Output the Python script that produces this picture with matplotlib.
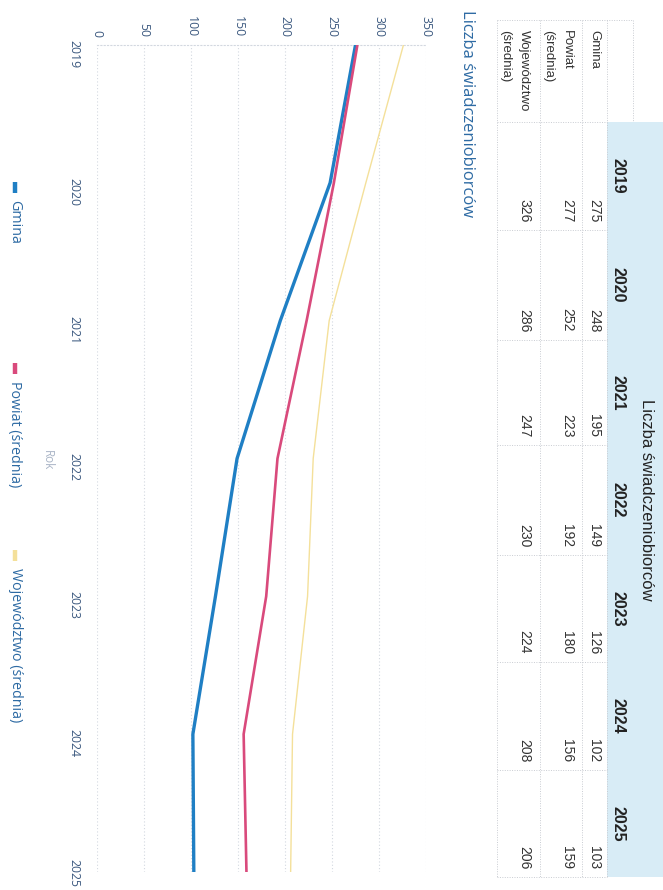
import matplotlib.pyplot as plt
import matplotlib.transforms as mtransforms

# dane
years = [2019, 2020, 2021, 2022, 2023, 2024, 2025]
gmina = [275, 248, 195, 149, 126, 102, 103]
powiat = [277, 252, 223, 192, 180, 156, 159]
wojewodztwo = [326, 286, 247, 230, 224, 208, 206]
row_labels = ["Gmina", "Powiat\n(średnia)", "Województwo\n(średnia)"]
series_names = ["Gmina", "Powiat (średnia)", "Województwo (średnia)"]
title = "Liczba świadczeniobiorców"
value_ticks = [0, 50, 100, 150, 200, 250, 300, 350]

colors = ["#1f7fc4", "#d94a7c", "#f4e09a"]
widths = [2.4, 1.9, 1.0]

W, H = 663, 890
fig = plt.figure(figsize=(W / 100, H / 100), dpi=100)
plt.rcParams['font.family'] = ['Open Sans', 'DejaVu Sans']

# warstwa w pikselach (tabela, legenda, tytuły)
ov = fig.add_axes([0, 0, 1, 1])
ov.set_xlim(0, W)
ov.set_ylim(H, 0)
ov.axis('off')

# --- wykres (obrócony o 90 stopni) ---
x0, x1, y0, y1 = 97, 426, 45, 872
ax = fig.add_axes([x0 / W, 1 - y1 / H, (x1 - x0) / W, (y1 - y0) / H])
ax.patch.set_alpha(0)
for vals, c, lw in zip([gmina, powiat, wojewodztwo], colors, widths):
    ax.plot(vals, years, color=c, lw=lw, solid_capstyle='butt', zorder=3)
ax.set_xlim(0, 350)
ax.set_ylim(2025, 2019)
ax.set_xticks(value_ticks)
ax.set_yticks(years)
ax.xaxis.tick_top()
ax.tick_params(length=0, labelsize=8.8, colors='#3d5a80')
ax.tick_params(axis='x', pad=6)
ax.tick_params(axis='y', pad=12)
for t in ax.get_xticklabels():
    t.set_rotation(-90)
ylabs = ax.get_yticklabels()
for t in ylabs:
    t.set_rotation(-90)
# ostatnia etykieta lekko w górę, żeby nie wychodziła poza obraz
ylabs[-1].set_transform(ylabs[-1].get_transform() +
                        mtransforms.ScaledTranslation(0, 8 / 100, fig.dpi_scale_trans))
ax.grid(axis='x', linestyle=(0, (1, 2)), color='#d3d8e0', lw=0.8)
for s in ['left', 'right', 'bottom']:
    ax.spines[s].set_visible(False)
ax.spines['top'].set_linestyle((0, (1, 2)))
ax.spines['top'].set_color('#d3d8e0')

ov.text(467, 10, title, rotation=-90, rotation_mode='anchor', ha='left', va='center',
        fontsize=12, color='#2d6aa3')
ov.text(47, 460, "Rok", rotation=-90, rotation_mode='anchor', ha='center', va='center',
        fontsize=8.5, color='#a9b4c6')

# legenda
leg_y = [182, 363, 550]
for yy, name, c in zip(leg_y, series_names, colors):
    ov.plot([15, 15], [yy, yy + 11], color=c, lw=3.2, solid_capstyle='butt')
    ov.text(15, yy + 18, name, rotation=-90, rotation_mode='anchor', ha='left', va='center',
            fontsize=10.3, color='#2d6aa3')

# --- tabela ---
col_edges = [20, 122, 230, 340, 445, 555, 662, 770, 877]
row_edges = [497, 540, 582, 607, 633]
ov.add_patch(plt.Rectangle((607, col_edges[1]), W - 607, col_edges[-1] - col_edges[1],
                           color='#d8ecf6', lw=0, zorder=0))
grid_kw = dict(color='#c9ccd2', lw=0.7, linestyle=(0, (1, 1.5)))
for xe in row_edges[:4]:
    ov.plot([xe, xe], [col_edges[0], col_edges[-1]], **grid_kw)
ov.plot([633, 633], [col_edges[0], col_edges[1]], **grid_kw)
for ye in col_edges:
    ov.plot([497, 633 if ye == col_edges[0] else 607], [ye, ye], **grid_kw)

ov.text(646, (col_edges[1] + col_edges[-1]) / 2, title, rotation=-90, rotation_mode='anchor',
        ha='center', va='center', fontsize=12, family='Liberation Sans', color='#222222')
for i, yr in enumerate(years):
    ov.text(618, (col_edges[i + 1] + col_edges[i + 2]) / 2, str(yr), rotation=-90,
            rotation_mode='anchor', ha='center', va='center', fontsize=11.5,
            fontweight='bold', family='Liberation Sans', color='#222222')

row_x = [594, 567, 524]
for xr, lab, vals in zip(row_x, row_labels, [gmina, powiat, wojewodztwo]):
    lines = lab.split("\n")
    for k, ln in enumerate(lines):
        ov.text(xr - k * 19, col_edges[0] + 10, ln, rotation=-90, rotation_mode='anchor',
                ha='left', va='center', fontsize=9.5, family='Liberation Sans', color='#333333')
    for i, v in enumerate(vals):
        ov.text(xr, col_edges[i + 2] - 8, str(v), rotation=-90, rotation_mode='anchor',
                ha='right', va='center', fontsize=10, family='Liberation Sans', color='#333333')

fig.savefig("out.png", dpi=100)
